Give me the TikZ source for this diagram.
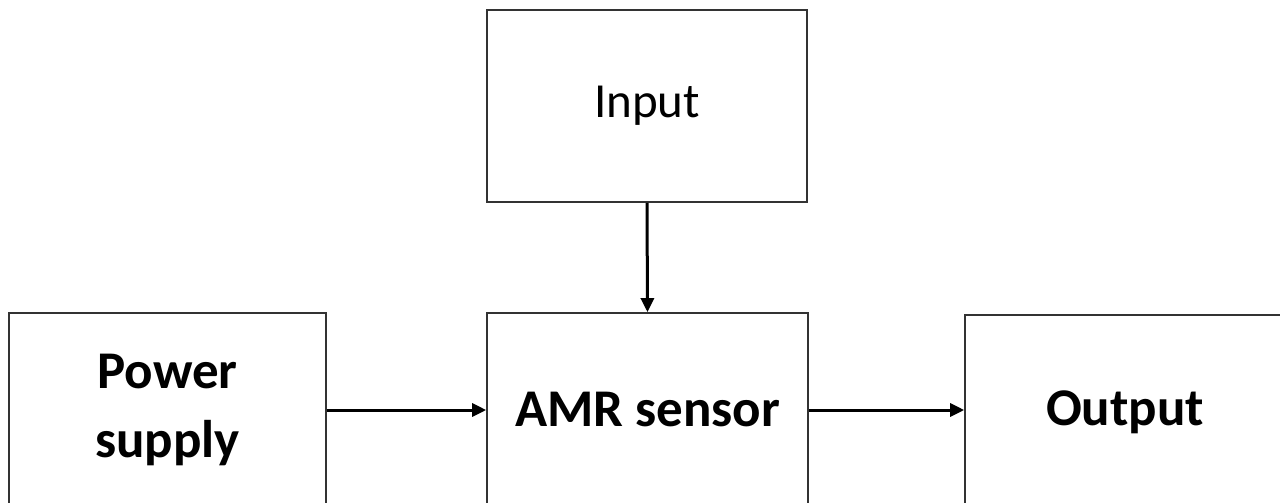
\documentclass[tikz,border=0pt]{standalone}
\usepackage{fontspec}
\setmainfont{Carlito}
\usetikzlibrary{arrows.meta}
\begin{document}
\begin{tikzpicture}[x=1pt,y=-1pt,
  block/.style={draw=black!80,line width=1.6pt,rectangle,inner sep=0pt,
    align=center,font=\fontsize{53}{69}\selectfont\bfseries},
  link/.style={line width=3pt,-{Triangle[length=14pt,width=13pt]}}]
  \useasboundingbox (0,0) rectangle (1280,503);
  \clip (0,0) rectangle (1280,503);
  \fill[white] (0,0) rectangle (1280,503);
  \node[block,minimum width=320pt,minimum height=192pt,
        font=\fontsize{49}{60}\selectfont] (in) at (647,106) {Input};
  \node[block,minimum width=317pt,minimum height=194pt] (ps) at (167.5,410) {Power\\supply};
  \node[block,minimum width=321pt,minimum height=194pt] (amr) at (647.5,410) {AMR sensor};
  \node[block,minimum width=320pt,minimum height=194pt] (out) at (1125,412) {Output};
  \draw[link] (in.south) -- (amr.north);
  \draw[link] (ps.east) -- (amr.west);
  \draw[link] (amr.east) -- (out.west |- amr.east);
\end{tikzpicture}
\end{document}
